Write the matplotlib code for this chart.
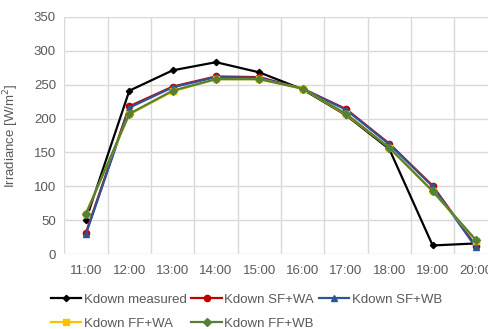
import matplotlib
matplotlib.use("Agg")
import matplotlib.pyplot as plt
import numpy as np

hours = ["11:00", "12:00", "13:00", "14:00", "15:00", "16:00", "17:00", "18:00", "19:00", "20:00"]
kdown_measured = [51, 241, 271, 283, 268, 243, 205, 155, 13, 16]
kdown_sf_wa = [32, 218, 247, 262, 261, 244, 214, 163, 101, 12]
kdown_sf_wb = [30, 216, 246, 261, 260, 244, 213, 162, 100, 10]
kdown_ff_wa = [60, 206, 240, 258, 258, 244, 206, 157, 93, 20]
kdown_ff_wb = [60, 207, 241, 258, 258, 244, 207, 157, 93, 21]

plt.rcParams["font.family"] = ["Liberation Sans", "DejaVu Sans"]
text_color = "#595959"
grid_color = "#d9d9d9"

fig = plt.figure(figsize=(4.88, 3.29), dpi=100)
ax = fig.add_axes([0.1318, 0.2271, 0.888, 0.7221])

x = np.arange(len(hours))
series = [
    ("Kdown measured", kdown_measured, "black", "D", 3.2),
    ("Kdown SF+WA", kdown_sf_wa, "#c00000", "o", 4.5),
    ("Kdown SF+WB", kdown_sf_wb, "#2f5597", "^", 4.5),
    ("Kdown FF+WA", kdown_ff_wa, "#ffc000", "s", 4.2),
    ("Kdown FF+WB", kdown_ff_wb, "#548235", "D", 4.2),
]
handles = []
for label, vals, color, marker, ms in series:
    h, = ax.plot(x, vals, color=color, marker=marker, markersize=ms,
                 linewidth=1.6, label=label, clip_on=False, zorder=3)
    handles.append(h)

ax.set_xlim(-0.5, len(hours) - 0.5)
ax.set_ylim(0, 350)
ax.set_yticks(np.arange(0, 351, 50))
ax.set_xticks(x)
ax.set_xticklabels(hours)
ax.set_xticks(np.arange(-0.5, len(hours), 1), minor=True)

ax.grid(False)
ax.yaxis.grid(True, color=grid_color, linewidth=1)
ax.xaxis.grid(True, which="minor", color=grid_color, linewidth=1)
ax.set_axisbelow(True)
for s in ax.spines.values():
    s.set_visible(False)
ax.tick_params(axis="both", which="both", length=0, labelsize=9.5, colors=text_color)
ax.tick_params(axis="x", pad=8)
ax.tick_params(axis="y", pad=6)

ax.set_ylabel("Irradiance [W/m$^2$]", fontsize=9.5, color=text_color)
ax.yaxis.set_label_coords(-0.1, 0.5)

order = [0, 3, 1, 4, 2]
fig.legend([handles[i] for i in order], [series[i][0] for i in order],
           loc="center", bbox_to_anchor=(0.505, 0.052), ncol=3, frameon=False,
           fontsize=9.5, labelcolor=text_color, handlelength=2.3, handletextpad=0.2,
           columnspacing=0.35, labelspacing=0.9, borderpad=0, borderaxespad=0)

fig.savefig("out.png", dpi=100)
